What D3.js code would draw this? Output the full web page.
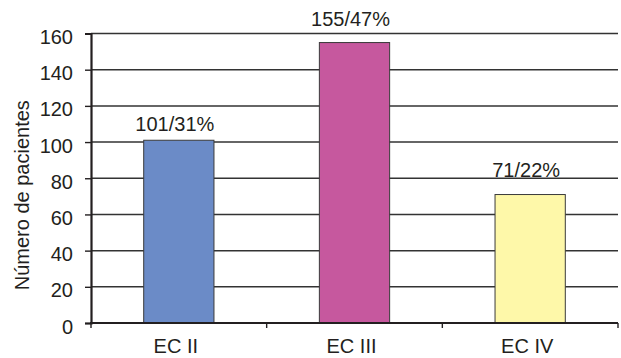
<!DOCTYPE html>
<html>
<head>
<meta charset="utf-8">
<script src="https://cdn.jsdelivr.net/npm/d3@7"></script>
<style>
  html, body { margin: 0; padding: 0; background: #fff; }
  svg { display: block; }
  text { font-family: "Liberation Sans", Arial, Helvetica, sans-serif; fill: #231f20; }
</style>
</head>
<body>
<svg id="chart" width="621" height="358"></svg>
<script>
const categories = ["EC II", "EC III", "EC IV"];
const values = [101, 155, 71];
const valueLabels = ["101/31%", "155/47%", "71/22%"];
const yTicks = [0, 20, 40, 60, 80, 100, 120, 140, 160];
const yTitle = "Número de pacientes";

const colors = ["#6b8bc7", "#c6589e", "#fef8a9"];
const labelGap = [9.5, 16.5, 17.5];

const W = 621, H = 358;
const margin = { left: 91, right: 3, top: 33.5, bottom: 35 };
const svg = d3.select("#chart");
const fs = 20;

const x = d3.scaleBand().domain(categories).range([margin.left, W - margin.right]).padding(0);
const y = d3.scaleLinear().domain([0, 160]).range([H - margin.bottom, margin.top]);

// gridlines
svg.append("g").selectAll("line").data(yTicks.filter(d => d > 0)).join("line")
  .attr("x1", margin.left).attr("x2", W - margin.right)
  .attr("y1", d => y(d)).attr("y2", d => y(d))
  .attr("stroke", "#333").attr("stroke-width", 1.5);

// bars
const bw = x.bandwidth();
svg.append("g").selectAll("rect").data(values).join("rect")
  .attr("x", (d, i) => x(categories[i]) + bw * 0.3)
  .attr("width", bw * 0.4)
  .attr("y", d => y(d))
  .attr("height", d => y(0) - y(d))
  .attr("fill", (d, i) => colors[i])
  .attr("stroke", "#3a3a3a").attr("stroke-width", 1);

// value labels
svg.append("g").selectAll("text").data(valueLabels).join("text")
  .attr("x", (d, i) => x(categories[i]) + bw / 2 - 4)
  .attr("y", (d, i) => y(values[i]) - labelGap[i])
  .attr("text-anchor", "middle")
  .attr("font-size", fs)
  .text(d => d);

// y axis
const yAxis = d3.axisLeft(y).tickValues(yTicks).tickSize(6).tickPadding(12).tickFormat(d3.format("d"));
const gy = svg.append("g").attr("transform", `translate(${margin.left},0)`).call(yAxis);
gy.select(".domain").attr("stroke", "#231f20").attr("stroke-width", 2.2);
gy.selectAll(".tick line").attr("stroke", "#231f20").attr("stroke-width", 1.4);
gy.selectAll(".tick text").attr("font-size", fs).attr("dy", "0.5em")
  .style("font-family", '"Liberation Sans", Arial, sans-serif').attr("fill", "#231f20");

// x axis
const xAxis = d3.axisBottom(x).tickSize(0).tickPadding(16);
const gx = svg.append("g").attr("transform", `translate(0,${y(0)})`).call(xAxis);
gx.select(".domain").remove();
gx.selectAll(".tick text").attr("font-size", fs).attr("dx", "-3")
  .style("font-family", '"Liberation Sans", Arial, sans-serif').attr("fill", "#231f20");

// x baseline
svg.append("line")
  .attr("x1", margin.left - 1).attr("x2", W - margin.right)
  .attr("y1", y(0)).attr("y2", y(0))
  .attr("stroke", "#231f20").attr("stroke-width", 2.2);

// x tick marks at band boundaries
const boundaries = categories.map(c => x(c)).concat([x(categories[categories.length - 1]) + bw]);
svg.append("g").selectAll("line").data(boundaries).join("line")
  .attr("x1", d => d).attr("x2", d => d)
  .attr("y1", y(0)).attr("y2", y(0) + 5)
  .attr("stroke", "#231f20").attr("stroke-width", 1.4);

// y title
svg.append("text")
  .attr("transform", `translate(29,${(margin.top + y(0)) / 2 + 17}) rotate(-90)`)
  .attr("text-anchor", "middle")
  .attr("font-size", fs)
  .text(yTitle);
</script>
</body>
</html>
